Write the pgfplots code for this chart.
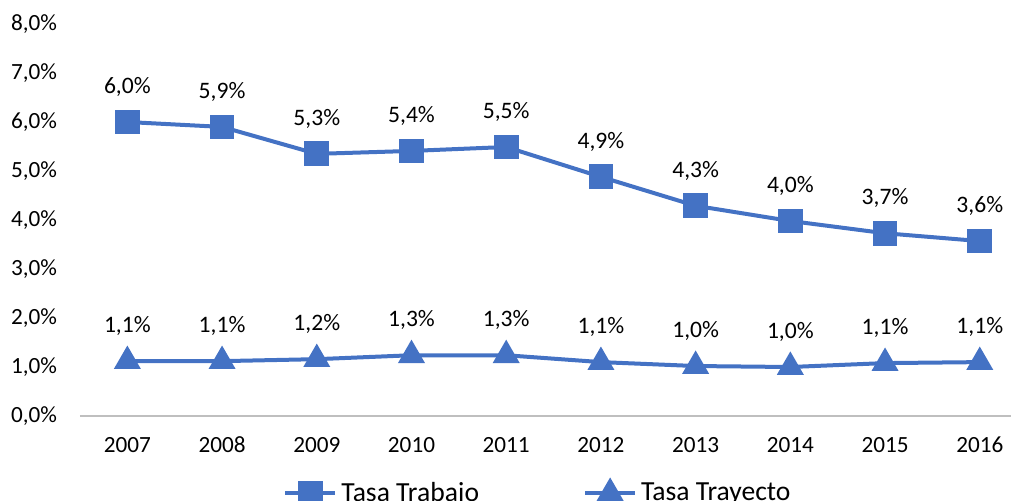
\documentclass[border=0pt]{standalone}
\usepackage{fontspec}
\setmainfont{Carlito}
\usepackage{pgfplots}
\pgfplotsset{compat=1.18}
\definecolor{azul}{HTML}{4472C4}
\definecolor{eje}{HTML}{BFBFBF}

\begin{document}
\begin{tikzpicture}
\path[use as bounding box] (-40pt,-42pt) rectangle (465.5pt,208pt);
\clip (-40pt,-42pt) rectangle (465.5pt,208pt);
\begin{axis}[
    name=ax, at={(0,0)}, anchor=south west,
    scale only axis, width=465.5pt, height=196pt,
    xmin=-0.5, xmax=9.33, ymin=0, ymax=8,
    axis x line*=bottom, axis y line*=left,
    x axis line style={eje, line width=0.8pt},
    y axis line style={draw=none},
    major tick length=0pt,
    xtick={0,...,9},
    xticklabels={2007,2008,2009,2010,2011,2012,2013,2014,2015,2016},
    ytick={0,...,8},
    /pgf/number format/assume math mode=true,
    yticklabel={\pgfmathprintnumber[fixed,fixed zerofill,precision=1,use comma]{\tick}\%},
    tick label style={font=\fontsize{11.6}{13}\selectfont, text=black},
    xticklabel style={anchor=center, yshift=-14.5pt},
    yticklabel style={anchor=east, xshift=-8pt},
    point meta=explicit symbolic,
    nodes near coords,
    nodes near coords style={anchor=center, yshift=17.5pt, font=\fontsize{11.8}{13}\selectfont, text=black},
    every axis plot/.append style={azul, line width=2pt, mark options={solid}},
    legend style={at={(0.493,0)}, anchor=center, yshift=-38.5pt, draw=none, fill=none,
        legend columns=2, font=\fontsize{13.8}{15}\selectfont,
        /tikz/every even column/.append style={column sep=50pt}},
    legend image code/.code={\draw[mark repeat=2,mark phase=2] plot coordinates {(0pt,0pt) (12.5pt,0pt) (25pt,0pt)};},
    clip=false,
]
\addplot[mark=square*, mark size=5.2pt] coordinates {
    (0,6.00) [6,0\%]
    (1,5.90) [5,9\%]
    (2,5.35) [5,3\%]
    (3,5.41) [5,4\%]
    (4,5.49) [5,5\%]
    (5,4.88) [4,9\%]
    (6,4.29) [4,3\%]
    (7,3.98) [4,0\%]
    (8,3.73) [3,7\%]
    (9,3.57) [3,6\%]
};
\addlegendentry{Tasa Trabajo}
\addplot[mark=triangle*, mark size=5.8pt] coordinates {
    (0,1.12) [1,1\%]
    (1,1.12) [1,1\%]
    (2,1.16) [1,2\%]
    (3,1.24) [1,3\%]
    (4,1.24) [1,3\%]
    (5,1.10) [1,1\%]
    (6,1.02) [1,0\%]
    (7,1.00) [1,0\%]
    (8,1.08) [1,1\%]
    (9,1.10) [1,1\%]
};
\addlegendentry{Tasa Trayecto}
\end{axis}
\end{tikzpicture}
\end{document}
